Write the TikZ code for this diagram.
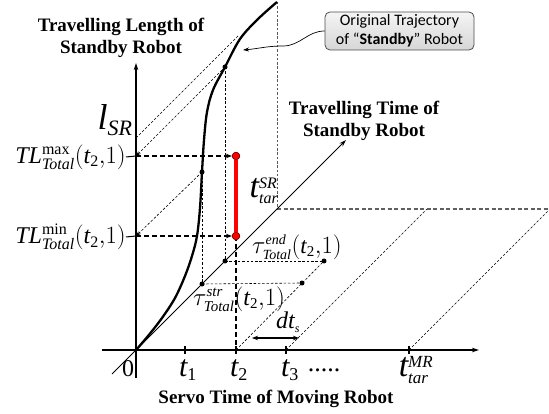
\documentclass[tikz,border=0pt]{standalone}
\usepackage{fontspec}
\setmainfont{Liberation Serif}
\newfontfamily\calib{Carlito}
\usetikzlibrary{arrows.meta,calc}
\newcommand{\myfs}[1]{\fontsize{#1}{#1}\selectfont}
\newcommand{\myscr}[2]{\mbox{\myfs{#1}\rmfamily\itshape #2}}
\newcommand{\myscrr}[2]{\mbox{\myfs{#1}\rmfamily\upshape #2}}
\begin{document}
\begin{tikzpicture}[x=1pt,y=-1pt,line join=round,
  axis/.style={line width=1.1pt,-{Stealth[length=7pt,width=4.5pt]}},
  thindash/.style={line width=0.6pt,dash pattern=on 2.5pt off 1.8pt},
  thinarrow/.style={thindash,-{Stealth[length=5pt,width=3.5pt]}},
  thickdash/.style={line width=1.4pt,dash pattern=on 5pt off 3pt},
  thickarrow/.style={thickdash,-{Stealth[length=6pt,width=4.5pt]}},
  graydash/.style={line width=1.2pt,gray!75!black,dash pattern=on 4pt off 2.5pt},
  dotb/.style={circle,fill=black,inner sep=0pt,minimum size=5pt},
  dotr/.style={circle,fill=red,draw=red!45!black,line width=0.6pt,inner sep=0pt,minimum size=7.5pt},
  tickmark/.style={line width=1.1pt},
  titl/.style={font=\fontsize{19}{22}\selectfont\bfseries,align=center,inner sep=0pt},
  lab/.style={inner sep=0pt},
  callout/.style={draw=gray!60!black,line width=0.8pt,rounded corners=5pt,top color=gray!8,bottom color=gray!32,
    minimum width=149pt,minimum height=38pt,align=center,inner sep=1pt,font=\calib\fontsize{16}{19}\selectfont}
]
\useasboundingbox (0,0) rectangle (549,414);

% key points
\coordinate (O) at (136,350);
\coordinate (Vb) at (136,378);
\coordinate (Vt) at (136,63);
\coordinate (Hl) at (102,350);
\coordinate (Hr) at (479,350);
\coordinate (Dl) at (112,374);
\coordinate (Dt) at (346,140);
\coordinate (T1) at (185,350);
\coordinate (T2) at (236,350);
\coordinate (T3) at (286,350);
\coordinate (TM) at (409,350);
\coordinate (C1) at (225,67);
\coordinate (C2) at (202,172);
\coordinate (Ctop) at (277,2);
\coordinate (Lsr) at (136,138);
\coordinate (Lsrc) at (239,35);
\coordinate (LMax) at (136,156);
\coordinate (LMin) at (136,236);
\coordinate (A1) at (225,261);
\coordinate (A2) at (202,284);
\coordinate (B1) at (324,261);
\coordinate (B2) at (302,283);
\coordinate (Str) at (277,209);
\coordinate (E3) at (427,209);
\coordinate (EM) at (549,210);
\coordinate (Gr) at (549,209);
\coordinate (DtL) at (252,338);
\coordinate (DtR) at (299,338);

% thin dashed construction lines
\draw[thindash] (Lsr) -- (Lsrc);
\draw[thinarrow] (C1) -- (LMax);
\draw[thinarrow] (C2) -- (LMin);
\draw[thindash] (C1) -- (A1);
\draw[thindash] (C2) -- (A2);
\draw[thindash,gray!70!black] (Ctop) -- (Str);
\draw[thindash] (A1) -- (B1);
\draw[thindash] (A2) -- (B2);
\draw[thindash] (T2) -- (B1);
\draw[thindash] (T3) -- (E3);
\draw[thindash] (TM) -- (EM);
\draw[graydash] (Str) -- (Gr);

% thick dashed
\draw[thickdash] (236,236) -- (T2);

% axes
\draw[axis] (Vb) -- (Vt);
\draw[axis] (Hl) -- (Hr);
\draw[axis,line width=0.9pt] (Dl) -- (Dt);
\foreach \t in {T1,T2,T3,TM} \draw[tickmark] ($(\t)+(0,-4)$) -- ($(\t)+(0,4)$);

% trajectory curve
\draw[line width=2.3pt] plot[smooth,tension=0.55] coordinates {(136,350) (148,336) (162,318) (175,298) (185,276) (192,256) (197,236) (200,208) (202,172) (204,140) (207,112) (213,90) (225,67) (240,39) (258,19) (277,2)};

% red interval
\node[dotr] (R1) at (236,156) {};
\node[dotr] (R2) at (236,236) {};
\draw[thickarrow] (LMax) -- (R1);
\draw[thickarrow] (LMin) -- (R2);
\draw[red,line width=3.6pt] (R1) -- (R2);
\node[dotr] at (R1) {};
\node[dotr] at (R2) {};

% black dots
\node[dotb] (d1) at (C1) {};
\node[dotb] (d2) at (C2) {};
\node[dotb] (d3) at (A1) {};
\node[dotb] (d4) at (A2) {};
\node[dotb] (d5) at (B1) {};
\node[dotb] (d6) at (B2) {};

% dt arrow
\draw[line width=1.1pt,{Stealth[length=6pt,width=4.5pt]}-{Stealth[length=6pt,width=4.5pt]}] (DtL) -- (DtR);

% titles
\node[titl] (ttl1) at (121,38) {Travelling Length of\\Standby Robot};
\node[titl] (ttl2) at (364,121) {Travelling Time of\\Standby Robot};
\node[titl] (ttl3) at (276,399) {Servo Time of Moving Robot};

% callout
\node[callout] (box) at (399.5,31) {Original Trajectory\\of “\textbf{Standby}” Robot};
\coordinate (K) at (283,46);
\coordinate (Kc) at (243,50);
\draw[line width=0.7pt,-{Stealth[length=6pt,width=4pt]}] (box.west) to[out=180,in=0] (K) to[out=180,in=5] (Kc);

% axis labels
\node[lab,anchor=east] (lmax) at (126,157) {\myfs{24}$\mathit{TL}^{\myscrr{16}{max}}_{\myscr{16}{Total}}(\mathit{t}_{\myscrr{16}{2}}{,}1)$};
\node[lab,anchor=east] (lmin) at (126,237) {\myfs{24}$\mathit{TL}^{\myscrr{16}{min}}_{\myscr{16}{Total}}(\mathit{t}_{\myscrr{16}{2}}{,}1)$};
\draw[line width=1pt] (lmax.east) -- (LMax);
\draw[line width=1pt] (lmin.east) -- (LMin);
\node[lab] (lsr) at (115,120) {\myfs{36}$\mathit{l}_{\myscr{22}{SR}}$};
\node[lab] (ttar) at (264,191) {\myfs{34}$\mathit{t}^{\myscr{16}{SR}}_{\myscr{16}{tar}}$};
\node[lab,anchor=west] (tend) at (252,247) {\myfs{23}$\tau^{\myscr{14}{end}}_{\myscr{14}{Total}}(\mathit{t}_{\myscrr{15}{2}}{,}1)$};
\node[lab,anchor=west] (tstr) at (193,299) {\myfs{24}$\tau^{\myscr{15}{str}}_{\myscr{15}{Total}}(\mathit{t}_{\myscrr{15}{2}}{,}1)$};
\node[lab] (dts) at (288,322) {\myfs{24}$\mathit{dt}_{\myscr{12}{s}}$};
\node[lab] (zero) at (128,369) {\myfs{24}0};
\node[lab] (t1) at (188,370) {\myfs{30}$\mathit{t}_{\myscrr{18}{1}}$};
\node[lab] (t2) at (239,370) {\myfs{30}$\mathit{t}_{\myscrr{18}{2}}$};
\node[lab] (t3) at (290,370) {\myfs{30}$\mathit{t}_{\myscrr{18}{3}}$};
\node[lab] (dots) at (324,370) {\myfs{26}.....};
\node[lab] (tmr) at (416,370) {\myfs{34}$\mathit{t}^{\myscr{17}{MR}}_{\myscr{17}{tar}}$};
\end{tikzpicture}
\end{document}
